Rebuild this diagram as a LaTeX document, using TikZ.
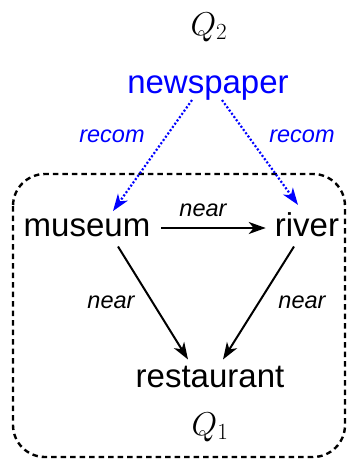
\documentclass[tikz,border=0pt]{standalone}
\usepackage{fix-cm}
\usepackage{fontspec}
\setmainfont{Liberation Sans}
\usetikzlibrary{arrows.meta}
\begin{document}
\begin{tikzpicture}[x=1pt,y=-1pt,
  word/.style={inner sep=0pt, anchor=base, font=\fontsize{33}{36}\selectfont},
  qlabel/.style={inner sep=0pt, anchor=base, font=\fontsize{33}{35}\selectfont},
  elabel/.style={inner sep=0pt, anchor=base, font=\fontsize{23.5}{26}\selectfont\itshape},
  tip/.style={-{Stealth[length=17pt,width=12pt,inset=5pt]}},
  rel/.style={tip, line width=2pt, black},
  rec/.style={tip, line width=2.2pt, blue, dash pattern=on 2pt off 2pt},
  groupbox/.style={draw, line width=2.4pt, dash pattern=on 5.5pt off 4pt, rounded corners=32pt}
]
\useasboundingbox (0,0) rectangle (351,461);

% query group Q1
\draw[groupbox] (13,174) rectangle (345,457);

% nodes
\node[qlabel] (q2) at (209,35) {$Q_2$};
\node[qlabel] (q1) at (210,435) {$Q_1$};
\node[word, blue] (news) at (208,93) {newspaper};
\node[word] (mus) at (87,236) {museum};
\node[word] (riv) at (307,236) {river};
\node[word] (res) at (210,387) {restaurant};

% recommendation links
\draw[rec] ([xshift=-16pt]news.south) -- ([xshift=26pt,yshift=7pt]mus.north);
\draw[rec] ([xshift=14pt]news.south) -- ([xshift=-9pt,yshift=7pt]riv.north);
\node[elabel, blue] (r1) at (112,142) {recom};
\node[elabel, blue] (r2) at (302,142) {recom};

% near links
\draw[rel] ([xshift=11pt]mus.east |- 0,228) -- ([xshift=-9pt]riv.west |- 0,228);
\draw[rel] ([xshift=31pt,yshift=-10pt]mus.south) -- ([xshift=-22pt,yshift=6pt]res.north);
\draw[rel] ([xshift=-13pt,yshift=-10pt]riv.south) -- ([xshift=13pt,yshift=6pt]res.north);
\node[elabel] (n1) at (203,216) {near};
\node[elabel] (n2) at (111,308) {near};
\node[elabel] (n3) at (302,308) {near};
\end{tikzpicture}
\end{document}
